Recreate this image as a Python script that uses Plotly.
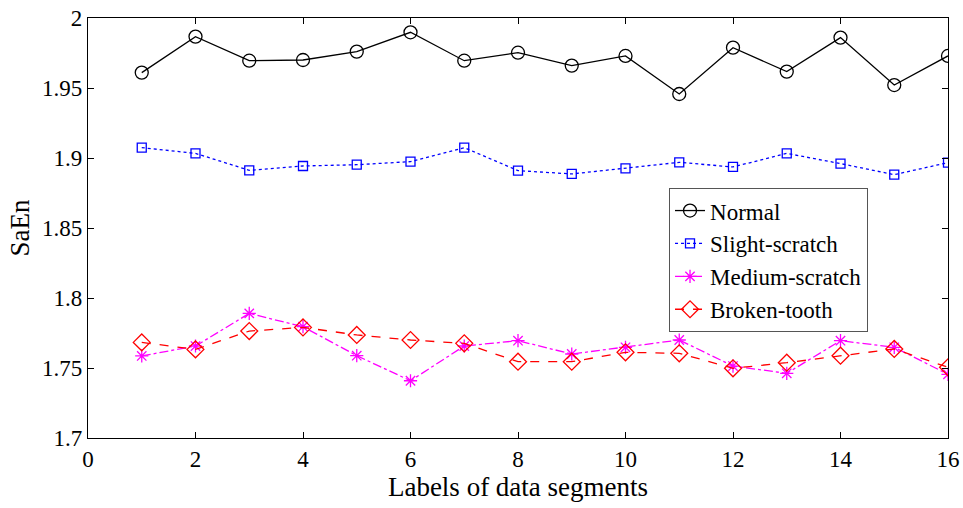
import plotly.graph_objects as go

segments = list(range(1, 17))

normal = [1.961, 1.9867, 1.9695, 1.970, 1.976, 1.9898, 1.9695, 1.9752,
          1.966, 1.9729, 1.9457, 1.9788, 1.9617, 1.9860, 1.9521, 1.9729]
slight_scratch = [1.9074, 1.9033, 1.8912, 1.8943, 1.8952, 1.8974, 1.9074, 1.8910,
                  1.8886, 1.8926, 1.8969, 1.8936, 1.9033, 1.8960, 1.8881, 1.8967]
medium_scratch = [1.7586, 1.7657, 1.789, 1.7795, 1.7588, 1.7409, 1.7657, 1.7695,
                  1.760, 1.7648, 1.770, 1.7514, 1.7462, 1.7695, 1.7648, 1.7455]
broken_tooth = [1.7683, 1.7633, 1.7764, 1.779, 1.7736, 1.770, 1.7676, 1.7545,
                1.7545, 1.7612, 1.7605, 1.7498, 1.7538, 1.7588, 1.7636, 1.7505]

x_ticks = [0, 2, 4, 6, 8, 10, 12, 14, 16]
y_ticks = [1.7, 1.75, 1.8, 1.85, 1.9, 1.95, 2.0]
y_tick_labels = ["1.7", "1.75", "1.8", "1.85", "1.9", "1.95", "2"]

series = [
    ("Normal", normal, "black", "solid", "circle-open", 13),
    ("Slight-scratch", slight_scratch, "blue", "dot", "square-open", 9),
    ("Medium-scratch", medium_scratch, "magenta", "dashdot", "asterisk-open", 11),
    ("Broken-tooth", broken_tooth, "red", "dash", "diamond-open", 13),
]

fig = go.Figure()
for name, vals, color, dash, symbol, size in series:
    fig.add_trace(go.Scatter(
        x=segments, y=vals, name=name, mode="lines+markers",
        line=dict(color=color, width=1.3, dash=dash),
        marker=dict(symbol=symbol, size=size, color=color,
                    line=dict(color=color, width=1.3)),
    ))

font_family = "Liberation Serif"
axis_common = dict(
    showgrid=False, zeroline=False, showline=True, linecolor="black",
    linewidth=1.2, mirror="ticks", ticks="inside", ticklen=6,
    tickcolor="black", tickwidth=1, automargin=False,
    tickfont=dict(family=font_family, size=23, color="black"),
)

fig.update_layout(
    width=963, height=508,
    margin=dict(l=88, r=15, t=18, b=70),
    paper_bgcolor="white", plot_bgcolor="white",
    font=dict(family=font_family, color="black"),
    xaxis=dict(range=[0, 16], tickvals=x_ticks,
               title=dict(text="Labels of data segments",
                          font=dict(family=font_family, size=27), standoff=0),
               **axis_common),
    yaxis=dict(range=[1.7, 2.0], tickvals=y_ticks, ticktext=y_tick_labels,
               title=dict(text="SaEn",
                          font=dict(family=font_family, size=27), standoff=4),
               **axis_common),
    legend=dict(x=0.6756, y=0.595, xanchor="left", yanchor="top",
                bgcolor="white", bordercolor="#555555", borderwidth=1,
                font=dict(family=font_family, size=23, color="black"),
                itemwidth=30, tracegroupgap=0),
    showlegend=True,
)

fig.write_html("out.html")
